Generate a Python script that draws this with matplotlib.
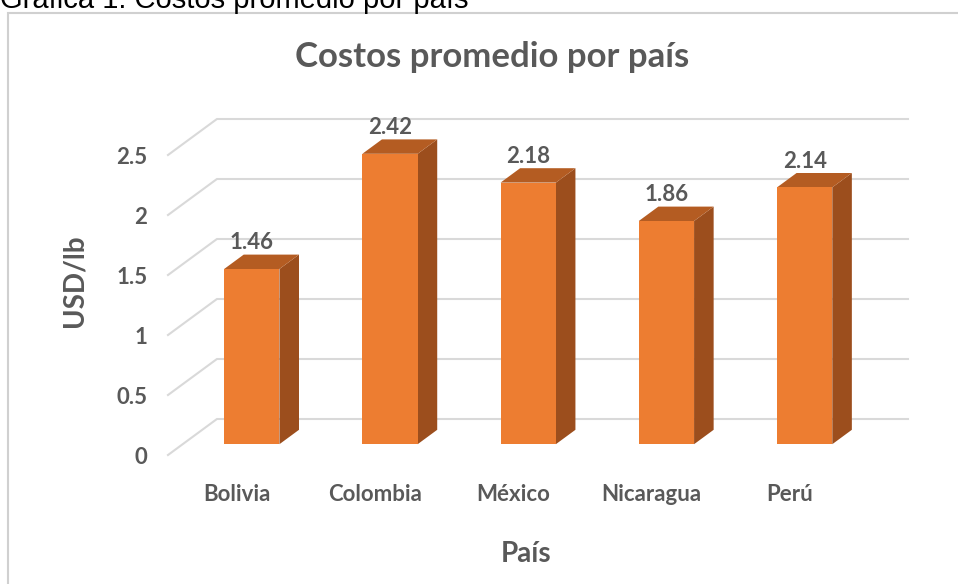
import matplotlib.pyplot as plt
from matplotlib.patches import Polygon, Rectangle
import numpy as np

# datos del grafico
paises = ['Bolivia', 'Colombia', 'México', 'Nicaragua', 'Perú']
costos = [1.46, 2.42, 2.18, 1.86, 2.14]
marcas_y = [0, 0.5, 1, 1.5, 2, 2.5]

titulo = 'Costos promedio por país'
leyenda_fig = 'Gráfica 1. Costos promedio por país'

# colores
gris_txt = '#595959'
gris_grid = '#D9D9D9'
naranja = '#ED7D31'
naranja_lado = '#9C4E1D'
naranja_tope = '#B45C22'

# profundidad (unidades de datos)
prof_x = 0.354
prof_y = 0.30
d0 = 0.30     # inicio de la barra en la profundidad
dd = 0.40     # grosor de la barra en la profundidad
ancho = 0.40

plt.rcParams['font.family'] = ['Lato', 'DejaVu Sans']

fig = plt.figure(figsize=(9.58, 5.84), dpi=100)
W, H = 958, 584

# marco del area del grafico
fig.patches.append(Rectangle((8 / W, -0.1), 1.2, 1 - 13 / H + 0.1,
                             transform=fig.transFigure, fill=False,
                             edgecolor='#D0D0D0', linewidth=1.5))

fig.text(0, 1 - 8 / H, leyenda_fig, family=['Liberation Sans'],
         fontsize=21, color='black', va='baseline', ha='left')

x0, x1 = 168, 908
y0, y1 = 455, 119
ax = fig.add_axes([x0 / W, 1 - y0 / H, (x1 - x0) / W, (y0 - y1) / H])
ax.set_xlim(-0.5, len(paises) - 0.5 + prof_x)
ax.set_ylim(0, 2.5 + prof_y)
for s in ax.spines.values():
    s.set_visible(False)

# lineas de cuadricula en perspectiva
xr = len(paises) - 0.5
for v in marcas_y:
    ax.plot([-0.5, -0.5 + prof_x, xr + prof_x], [v, v + prof_y, v + prof_y],
            color=gris_grid, linewidth=1.5, zorder=1, clip_on=False)

# barras 3D
for i, v in enumerate(costos):
    c = i + d0 * prof_x
    xa = c - ancho / 2
    xb = c + ancho / 2
    yb = d0 * prof_y
    yt = yb + v
    ddx = dd * prof_x
    ddy = dd * prof_y
    ax.add_patch(Polygon([(xb, yb), (xb + ddx, yb + ddy), (xb + ddx, yt + ddy), (xb, yt)],
                         closed=True, facecolor=naranja_lado, edgecolor='none', zorder=3))
    ax.add_patch(Polygon([(xa, yt), (xb, yt), (xb + ddx, yt + ddy), (xa + ddx, yt + ddy)],
                         closed=True, facecolor=naranja_tope, edgecolor='none', zorder=3))
    ax.add_patch(Rectangle((xa, yb), ancho, v, facecolor=naranja,
                           edgecolor='none', zorder=4))
    ax.annotate(f'{v:.2f}', (c, yt + ddy), xytext=(0, 1), textcoords='offset points',
                ha='center', va='bottom', fontsize=16, fontweight='bold',
                color=gris_txt)

ax.set_xticks(range(len(paises)))
ax.set_xticklabels(paises)
ax.set_yticks(marcas_y)
ax.set_yticklabels(['0', '0.5', '1', '1.5', '2', '2.5'])
ax.tick_params(axis='x', length=0, pad=21, labelsize=16, labelcolor=gris_txt)
ax.tick_params(axis='y', length=0, pad=15, labelsize=16, labelcolor=gris_txt)
for t in ax.get_xticklabels() + ax.get_yticklabels():
    t.set_fontweight('bold')

fig.text(492 / W, 1 - 67 / H, titulo, ha='center', va='baseline',
         fontsize=25, fontweight='bold', color=gris_txt)
fig.text(74 / W, 1 - 281 / H, 'USD/lb', ha='center', va='center', rotation=90,
         fontsize=20, fontweight='bold', color=gris_txt)
fig.text(526 / W, 1 - 554 / H, 'País', ha='center', va='center',
         fontsize=20, fontweight='bold', color=gris_txt)

fig.savefig('out.png', dpi=100)
